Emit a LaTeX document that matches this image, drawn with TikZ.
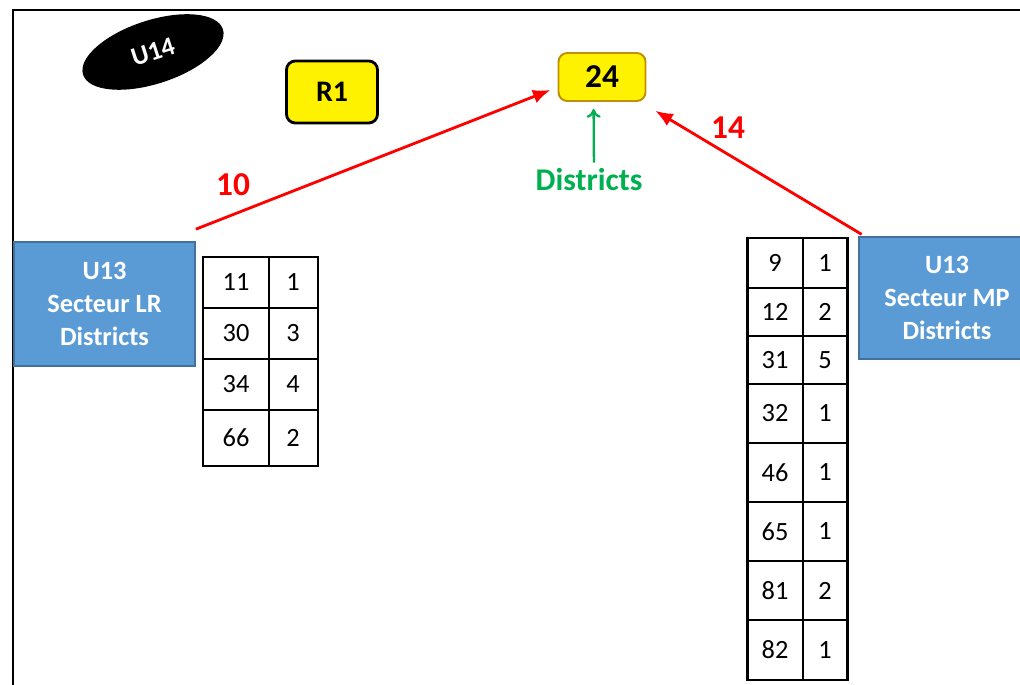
\documentclass[tikz,border=0pt]{standalone}
\usepackage{fontspec}
\setmainfont{Carlito}
\usepackage{tikz}
\usetikzlibrary{calc,shapes,arrows,arrows.meta}
\definecolor{boxblue}{HTML}{5B9BD5}
\definecolor{boxedge}{HTML}{41719C}
\definecolor{goldedge}{HTML}{BF9000}
\definecolor{distgreen}{HTML}{00B050}

\tikzset{
  secteur/.style={draw=boxedge, line width=1pt, fill=boxblue, text=white,
    font=\fontsize{15}{19}\selectfont\bfseries, align=center, inner sep=0pt},
  tag/.style={rounded corners=5pt, fill=yellow, inner sep=0pt},
  cell/.style={font=\fontsize{15}{18}\selectfont},
  redarrow/.style={-{Latex[length=10pt,width=8pt]}, red, line width=1.6pt},
  countlbl/.style={text=red, font=\fontsize{19}{22}\selectfont\bfseries}
}

\begin{document}
\begin{tikzpicture}[x=0.02cm,y=-0.02cm]
        \useasboundingbox (0,0) rectangle (1020,685);
        % frame
        \draw[line width=1.2pt] (13,685) -- (13,10) -- (1020,10);

        \node[ellipse, fill=black, text=white, minimum width=2.94cm, minimum height=1.27cm,
            rotate=18, font=\fontsize{15}{18}\selectfont\bfseries] (u14) at (153,52) {U14};
        \node[tag, draw=black, line width=1.6pt, minimum width=1.82cm, minimum height=1.24cm,
            font=\fontsize{17}{20}\selectfont\bfseries] (r1) at (332,92) {R1};
        \node[tag, draw=goldedge, line width=1.1pt, minimum width=1.74cm, minimum height=0.96cm,
            font=\fontsize{19}{22}\selectfont\bfseries] (b24) at (602,77) {24};

        \node[text=distgreen, font=\fontsize{18}{20}\selectfont\bfseries] (dist) at (589,180) {Districts};
        \draw[-{To[length=5pt,width=8pt]}, distgreen, line width=1.3pt] ([xshift=2.8pt]dist.north) -- ([xshift=-4.8pt,yshift=-4pt]b24.south);

        \node[secteur, minimum width=3.62cm, minimum height=2.48cm] (lr) at (104.5,304) {U13\\Secteur LR\\Districts};
        \node[secteur, minimum width=3.52cm, minimum height=2.44cm] (mp) at (947,298) {U13\\Secteur MP\\Districts};

        \draw[redarrow] ([yshift=6.8pt]lr.north east) -- ([xshift=-4pt,yshift=-7.4pt]b24.west);
        \draw[redarrow] ([xshift=2pt,yshift=1pt]mp.north west) -- ([xshift=5pt,yshift=-5pt]b24.south east);
        \node[countlbl] (n10) at (233,185) {10};
        \node[countlbl] (n14) at (728,128) {14};

        % table LR
        \foreach \ya/\yb/\code/\nb in {257/308/11/1, 308/359/30/3, 359/410/34/4, 410/466/66/2}
        {
        \draw[line width=1.1pt] (203,\ya) rectangle (269,\yb) (269,\ya) rectangle (318,\yb);
        \node[cell] (lr-\code) at (236,{(\ya+\yb)/2}) {\code};
        \node[cell] (lrv-\code) at (293,{(\ya+\yb)/2}) {\nb};
        }
        \draw[line width=1.7pt] (203,257) rectangle (318,466);

        % table MP
        \foreach \ya/\yb/\code/\nb in {238/288/9/1, 288/336/12/2, 336/384/31/5, 384/443/32/1,
            443/502/46/1, 502/561/65/1, 561/620/81/2, 620/680/82/1}
        {
        \draw[line width=1.1pt] (747,\ya) rectangle (803,\yb) (803,\ya) rectangle (847,\yb);
        \node[cell] (mp-\code) at (775,{(\ya+\yb)/2}) {\code};
        \node[cell] (mpv-\code) at (825,{(\ya+\yb)/2}) {\nb};
        }
        \draw[line width=1.7pt] (747,238) rectangle (847,680);
    \end{tikzpicture}
\end{document}
